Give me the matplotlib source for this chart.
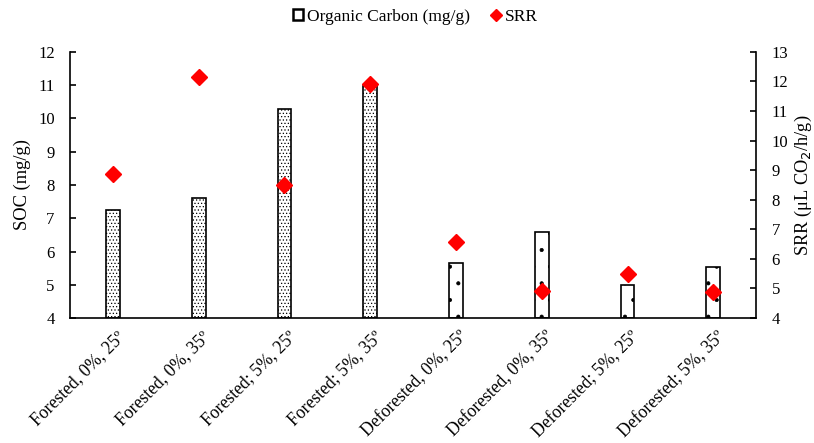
import matplotlib
matplotlib.use("Agg")
import matplotlib.pyplot as plt
import numpy as np
from matplotlib.lines import Line2D
from matplotlib.patches import Patch
from matplotlib.transforms import ScaledTranslation

plt.rcParams['font.family'] = ['Liberation Serif', 'DejaVu Serif']
plt.rcParams['hatch.linewidth'] = 0.5

categories = ["Forested, 0%, 25º", "Forested, 0%, 35º", "Forested; 5%, 25º", "Forested; 5%, 35º",
              "Deforested, 0%, 25º", "Deforested, 0%, 35º", "Deforested; 5%, 25º", "Deforested; 5%, 35º"]
soc = [7.25, 7.6, 10.28, 10.98, 5.66, 6.59, 4.98, 5.52]
srr = [8.87, 12.15, 8.5, 11.9, 6.57, 4.92, 5.5, 4.87]
hatches = [".....", ".....", ".....", ".....", ".", ".", ".", "."]

fig = plt.figure(figsize=(8.14, 4.43), dpi=100)
ax = fig.add_axes([0.086, 0.282, 0.843, 0.601])
x = np.arange(len(categories))
for xi, v, h in zip(x, soc, hatches):
    ax.bar(xi, v - 4, bottom=4, width=0.16, facecolor='white', edgecolor='black',
           linewidth=1.2, hatch=h, zorder=2)
ax.set_xlim(-0.5, len(categories) - 0.5)
ax.set_ylim(4, 12)
ax.set_yticks(range(4, 13))
ax.set_ylabel("SOC (mg/g)", fontsize=13.3)
ax.yaxis.set_label_coords(-0.057, 0.5)
ax.spines['top'].set_visible(False)
ax.spines['right'].set_visible(False)
for s in ['left', 'bottom']:
    ax.spines[s].set_linewidth(1.2)
ax.tick_params(axis='y', direction='in', length=4, width=1.2, labelsize=12, pad=11)
ax.tick_params(axis='x', length=0, pad=7)
ax.set_xticks(x)
ax.set_xticklabels(categories, rotation=45, ha='right', va='top', rotation_mode='anchor',
                   fontsize=12.7)
for lbl in ax.get_xticklabels():
    lbl.set_transform(lbl.get_transform() + ScaledTranslation(0.03, 0, fig.dpi_scale_trans))

ax2 = ax.twinx()
ax2.plot(x, srr, linestyle='none', marker='D', color='#ff0000', markersize=8, zorder=3)
ax2.set_ylim(4, 13)
ax2.set_yticks(range(4, 14))
ax2.spines['top'].set_visible(False)
ax2.spines['left'].set_visible(False)
ax2.spines['bottom'].set_visible(False)
ax2.spines['right'].set_linewidth(1.2)
ax2.tick_params(axis='y', direction='in', length=4, width=1.2, labelsize=12, pad=11)
ax2.set_ylabel("SRR (μL CO$_2$/h/g)", fontsize=13.2)
ax2.yaxis.set_label_coords(1.054, 0.5)

handles = [Patch(facecolor='white', edgecolor='black', linewidth=1.8),
           Line2D([], [], linestyle='none', marker='D', color='#ff0000', markersize=6)]
fig.legend(handles, ["Organic Carbon (mg/g)", "SRR"], loc='upper center',
           bbox_to_anchor=(0.51, 1.015), ncol=2, frameon=False, fontsize=12.5,
           handlelength=0.6, handleheight=0.6, handletextpad=0.2, columnspacing=1.2)

fig.savefig("out.png", dpi=100)
